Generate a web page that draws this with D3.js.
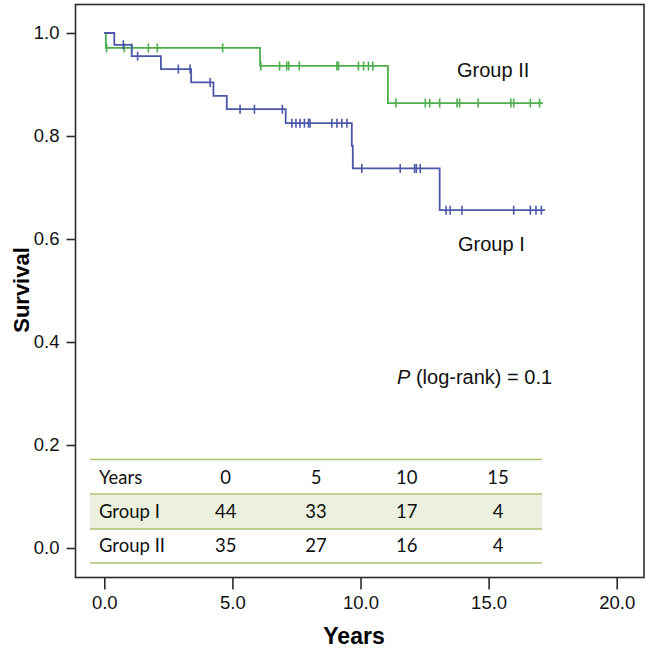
<!DOCTYPE html>
<html><head><meta charset="utf-8">
<script src="https://cdn.jsdelivr.net/npm/d3@7"></script>
<style>body{margin:0;background:#fff;} svg{display:block;}</style>
</head><body>
<script>
// ---- data ----
const groupIStepTimes = [0, 0.39, 1.07, 2.21, 3.39, 4.26, 4.78, 7.08, 9.66, 9.70, 13.09];
const groupIStepSurv  = [1.0, 0.977, 0.955, 0.930, 0.904, 0.878, 0.852, 0.825, 0.781, 0.737, 0.656];
const groupIEnd = 17.2;
const groupICensor = [0.74, 1.30, 2.89, 3.35, 4.13, 5.30, 5.86, 6.95, 7.32, 7.48, 7.64, 7.81, 7.97, 8.03,
  8.88, 9.08, 9.27, 9.47, 10.05, 11.55, 12.11, 12.18, 12.33, 13.34, 13.50, 13.96, 15.98, 16.63, 16.85, 17.06];

const groupIIStepTimes = [0, 0.06, 6.08, 11.07];
const groupIIStepSurv  = [1.0, 0.971, 0.936, 0.864];
const groupIIEnd = 17.12;
const groupIICensor = [0.09, 0.78, 1.07, 1.72, 2.07, 4.62, 6.11, 6.84, 7.12, 7.20, 7.61, 9.08, 9.14,
  9.92, 10.12, 10.31, 10.48, 11.38, 12.53, 12.70, 13.09, 13.77, 13.87, 14.59, 15.87, 15.98, 16.63, 16.99];

const xTicks = [0, 5, 10, 15, 20];
const yTicks = [0, 0.2, 0.4, 0.6, 0.8, 1.0];

const tableHeader = ["Years", "0", "5", "10", "15"];
const tableRowI  = ["Group I", "44", "33", "17", "4"];
const tableRowII = ["Group II", "35", "27", "16", "4"];

// ---- layout ----
const W = 650, H = 651;
const svg = d3.select("body").append("svg").attr("width", W).attr("height", H);

const x = d3.scaleLinear().domain([0, 20]).range([104.3, 616.7]);
const y = d3.scaleLinear().domain([0, 1]).range([548, 33]);

const frame = {l: 75.5, t: 4.5, r: 644, b: 577.5};
svg.append("rect").attr("x", frame.l).attr("y", frame.t)
  .attr("width", frame.r - frame.l).attr("height", frame.b - frame.t)
  .attr("fill", "none").attr("stroke", "#2b2b2b").attr("stroke-width", 1.6);

const axFont = "'Liberation Sans', Arial, sans-serif";

// y axis
const yAxis = d3.axisLeft(y).tickValues(yTicks).tickFormat(d3.format(".1f")).tickSize(9).tickPadding(7);
const gy = svg.append("g").attr("transform", `translate(${frame.l},0)`).call(yAxis);
gy.select(".domain").remove();
gy.selectAll("line").attr("stroke", "#2b2b2b").attr("stroke-width", 1.6);
gy.selectAll("text").attr("font-family", axFont).attr("font-size", 18.5).attr("fill", "#111");

// x axis
const xAxis = d3.axisBottom(x).tickValues(xTicks).tickFormat(d3.format(".1f")).tickSize(12).tickPadding(6);
const gx = svg.append("g").attr("transform", `translate(0,${frame.b})`).call(xAxis);
gx.select(".domain").remove();
gx.selectAll("line").attr("stroke", "#2b2b2b").attr("stroke-width", 1.6);
gx.selectAll("text").attr("font-family", axFont).attr("font-size", 18.5).attr("fill", "#111");

// axis titles
svg.append("text").attr("x", 354).attr("y", 644).attr("text-anchor", "middle")
  .attr("font-family", axFont).attr("font-weight", "bold").attr("font-size", 23).text("Years");
svg.append("text").attr("transform", "translate(29,290) rotate(-90)").attr("text-anchor", "middle")
  .attr("font-family", axFont).attr("font-weight", "bold").attr("font-size", 22).text("Survival");

// ---- table ----
const tblFont = "Lato, 'Open Sans', sans-serif";
const tblLeft = 90, tblRight = 542;
const lineYs = [459.5, 494, 529, 563];
svg.append("rect").attr("x", tblLeft).attr("y", lineYs[1]).attr("width", tblRight - tblLeft)
  .attr("height", lineYs[2] - lineYs[1]).attr("fill", "#ebf1de");
svg.selectAll("line.tbl").data(lineYs).join("line").attr("class", "tbl")
  .attr("x1", tblLeft).attr("x2", tblRight).attr("y1", d => d).attr("y2", d => d)
  .attr("stroke", "#a9c46c").attr("stroke-width", 1.4);
const colX = [99, 225.7, 316, 406.7, 498];
const rowY = [478, 512, 546];
[tableHeader, tableRowI, tableRowII].forEach((row, ri) => {
  svg.append("g").selectAll("text").data(row).join("text")
    .attr("x", (d, i) => colX[i]).attr("y", rowY[ri]).attr("dy", "0.35em")
    .attr("text-anchor", (d, i) => i === 0 ? "start" : "middle")
    .attr("font-family", tblFont).attr("font-size", 18.5).attr("fill", "#111").text(d => d);
});

// ---- curves ----
function stepPath(times, surv, end) {
  const pts = [];
  for (let i = 0; i < times.length; i++) {
    if (i > 0) pts.push([times[i], surv[i - 1]]);
    pts.push([times[i], surv[i]]);
  }
  pts.push([end, surv[surv.length - 1]]);
  return pts;
}
function survAt(times, surv, t) {
  let s = surv[0];
  for (let i = 0; i < times.length; i++) if (times[i] <= t) s = surv[i];
  return s;
}
const line = d3.line().x(d => x(d[0])).y(d => y(d[1]));

function drawGroup(times, surv, end, censor, color) {
  svg.append("path").datum(stepPath(times, surv, end)).attr("d", line)
    .attr("fill", "none").attr("stroke", color).attr("stroke-width", 1.8);
  svg.append("g").selectAll("line").data(censor).join("line")
    .attr("x1", d => x(d)).attr("x2", d => x(d))
    .attr("y1", d => y(survAt(times, surv, d)) - 4.5).attr("y2", d => y(survAt(times, surv, d)) + 4.5)
    .attr("stroke", color).attr("stroke-width", 1.6);
}
drawGroup(groupIIStepTimes, groupIIStepSurv, groupIIEnd, groupIICensor, "#4cae4c");
drawGroup(groupIStepTimes, groupIStepSurv, groupIEnd, groupICensor, "#4b57a8");

// labels
const lblFont = "'Liberation Sans', Arial, sans-serif";
svg.append("text").attr("x", 457).attr("y", 70).attr("dy", "0.35em")
  .attr("font-family", lblFont).attr("font-size", 20).attr("fill", "#111").text("Group II");
svg.append("text").attr("x", 458).attr("y", 244).attr("dy", "0.35em")
  .attr("font-family", lblFont).attr("font-size", 20).attr("fill", "#111").text("Group I");
const pt = svg.append("text").attr("x", 397).attr("y", 377).attr("dy", "0.35em")
  .attr("font-family", lblFont).attr("font-size", 20).attr("fill", "#111");
pt.append("tspan").attr("font-style", "italic").text("P");
pt.append("tspan").text(" (log-rank) = 0.1");
</script>
</body></html>
